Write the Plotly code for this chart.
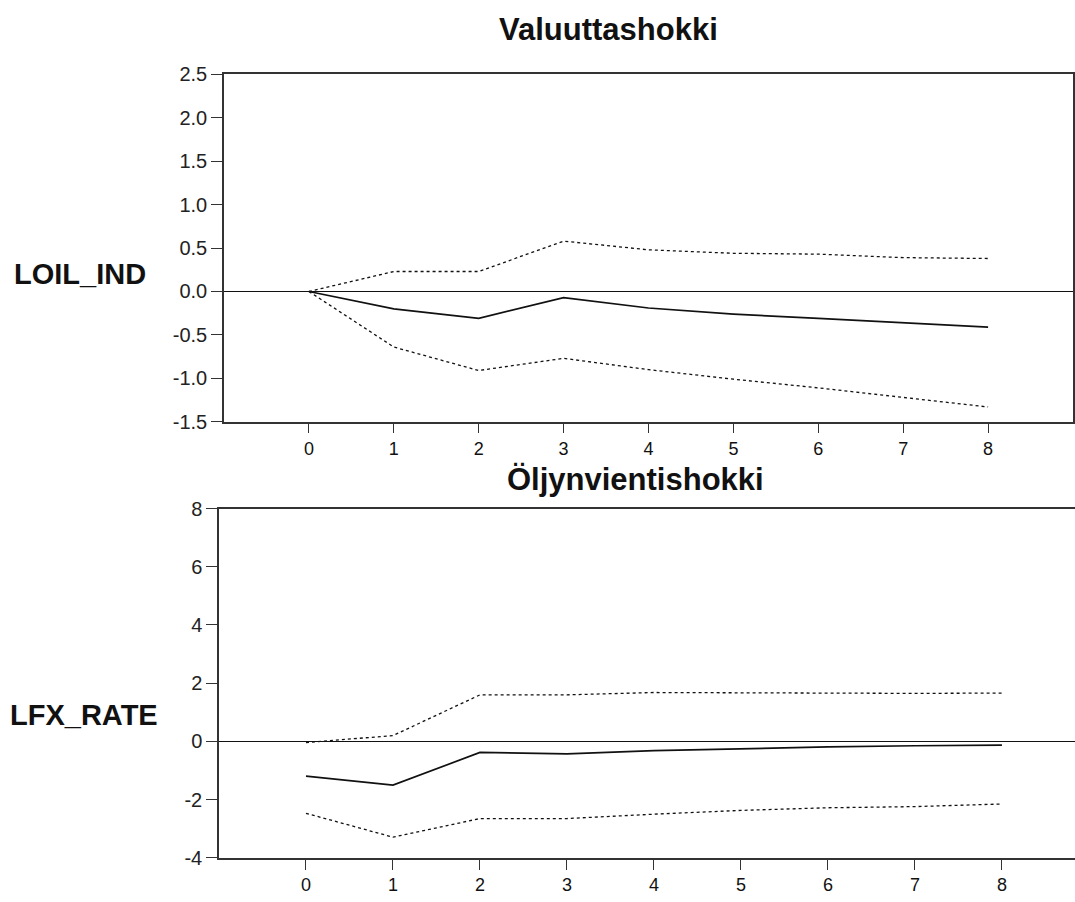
import plotly.graph_objects as go

# ---- data ----
periods = [0, 1, 2, 3, 4, 5, 6, 7, 8]

loil_resp = [0.0, -0.20, -0.31, -0.07, -0.19, -0.26, -0.31, -0.36, -0.41]
loil_upper = [0.0, 0.23, 0.23, 0.58, 0.48, 0.44, 0.43, 0.39, 0.38]
loil_lower = [0.0, -0.64, -0.91, -0.77, -0.90, -1.01, -1.11, -1.22, -1.33]

lfx_resp = [-1.19, -1.50, -0.38, -0.43, -0.32, -0.25, -0.19, -0.15, -0.13]
lfx_upper = [-0.04, 0.20, 1.60, 1.60, 1.68, 1.68, 1.66, 1.65, 1.66]
lfx_lower = [-2.47, -3.29, -2.65, -2.65, -2.50, -2.37, -2.28, -2.24, -2.15]

top_title = "Valuuttashokki"
bottom_title = "Öljynvientishokki"
top_ylabel = "LOIL_IND"
bottom_ylabel = "LFX_RATE"

top_yticks = [-1.5, -1.0, -0.5, 0.0, 0.5, 1.0, 1.5, 2.0, 2.5]
bottom_yticks = [-4, -2, 0, 2, 4, 6, 8]

W, H = 1075, 902
FONT = "Liberation Sans, Arial, sans-serif"
AX = "#333333"

fig = go.Figure()

def add_panel(xa, ya, resp, up, lo):
    fig.add_trace(go.Scatter(x=periods, y=up, mode="lines", xaxis=xa, yaxis=ya,
                             line=dict(color="#111111", width=1.3, dash="3px,3px"),
                             showlegend=False, hoverinfo="skip"))
    fig.add_trace(go.Scatter(x=periods, y=lo, mode="lines", xaxis=xa, yaxis=ya,
                             line=dict(color="#111111", width=1.3, dash="3px,3px"),
                             showlegend=False, hoverinfo="skip"))
    fig.add_trace(go.Scatter(x=periods, y=resp, mode="lines", xaxis=xa, yaxis=ya,
                             line=dict(color="#111111", width=1.7),
                             showlegend=False, hoverinfo="skip"))

add_panel("x", "y", loil_resp, loil_upper, loil_lower)
add_panel("x2", "y2", lfx_resp, lfx_upper, lfx_lower)

xcommon = dict(showgrid=False, zeroline=False, showline=True, linecolor=AX, linewidth=1.5,
               ticks="outside", ticklen=10, tickwidth=1.3, tickcolor=AX,
               tickmode="array", tickvals=periods, ticktext=[str(p) for p in periods],
               tickfont=dict(family=FONT, size=18, color="#111111"))
ycommon = dict(showgrid=False, zeroline=True, zerolinecolor="#111111", zerolinewidth=1.4,
               showline=True, linecolor=AX, linewidth=1.5,
               ticks="outside", ticklen=11, tickwidth=1.3, tickcolor=AX,
               tickfont=dict(family=FONT, size=20, color="#222222"))

fig.update_layout(
    width=W, height=H,
    margin=dict(l=0, r=0, t=0, b=0),
    paper_bgcolor="white", plot_bgcolor="white",
    showlegend=False,
    xaxis=dict(xcommon, domain=[224 / W, 1073 / W], range=[-1, 9], mirror=True, anchor="y"),
    yaxis=dict(ycommon, domain=[1 - 421 / H, 1 - 65 / H], range=[-1.5, 2.5], mirror=True,
               tickmode="array", tickvals=top_yticks,
               ticktext=[f"{v:.1f}" for v in top_yticks], anchor="x"),
    xaxis2=dict(xcommon, domain=[219 / W, 1.0], range=[-1, 8.84], mirror=True, anchor="y2"),
    yaxis2=dict(ycommon, domain=[1 - 868 / H, 1 - 510 / H], range=[-4, 8], mirror=False,
                tickmode="array", tickvals=bottom_yticks,
                ticktext=[str(v) for v in bottom_yticks], anchor="x2"),
)

title_font = dict(family=FONT, size=31, color="#111111")
fig.add_annotation(text=f"<b>{top_title}</b>", xref="paper", yref="paper",
                   x=608 / W, y=1 - 19 / H, showarrow=False, font=title_font,
                   xanchor="center", yanchor="middle")
fig.add_annotation(text=f"<b>{bottom_title}</b>", xref="paper", yref="paper",
                   x=635 / W, y=1 - 480 / H, showarrow=False, font=title_font,
                   xanchor="center", yanchor="middle")

label_font = dict(family=FONT, size=29, color="#111111")
fig.add_annotation(text=f"<b>{top_ylabel}</b>", xref="paper", yref="paper",
                   x=12 / W, y=1 - 270 / H, showarrow=False, font=label_font,
                   xanchor="left", yanchor="middle")
fig.add_annotation(text=f"<b>{bottom_ylabel}</b>", xref="paper", yref="paper",
                   x=8 / W, y=1 - 722 / H, showarrow=False, font=label_font,
                   xanchor="left", yanchor="middle")

fig.write_html("out.html")
